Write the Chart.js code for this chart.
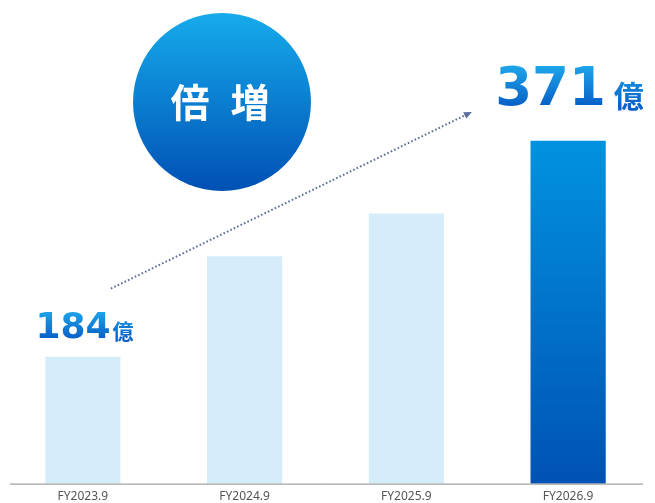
<!DOCTYPE html>
<html>
<head>
<meta charset="utf-8">
<script src="https://cdn.jsdelivr.net/npm/chart.js"></script>
<style>
  html, body { margin: 0; padding: 0; background: #fff; }
  #chart { display: block; }
</style>
</head>
<body>
<canvas id="chart" width="655" height="503"></canvas>
<script>
// data (middle two bars estimated)
const categories = ['FY2023.9', 'FY2024.9', 'FY2025.9', 'FY2026.9'];
const sales = [184, 271, 308, 371];
const unitLabel = '億';
const badgeText = ['倍', '増'];

// gradient for the last bar
function lastBarColor(ctx) {
  const chart = ctx.chart;
  const area = chart.chartArea;
  if (ctx.dataIndex !== sales.length - 1) return '#d5edfa';
  if (!area) return '#0a8ee0';
  const el = chart.getDatasetMeta(0).data[ctx.dataIndex];
  const top = el && el.y ? el.y : area.top;
  const g = chart.ctx.createLinearGradient(0, top, 0, area.bottom);
  g.addColorStop(0, '#02aaef');
  g.addColorStop(1, '#0052b4');
  return g;
}

function drawNumber(c, num, x, baseline, numSize, unitSize, gap) {
  c.save();
  c.font = 'bold ' + numSize + 'px "DejaVu Sans"';
  const w = c.measureText(num).width;
  const g = c.createLinearGradient(0, baseline - numSize * 0.75, 0, baseline);
  g.addColorStop(0, '#1ea6ea');
  g.addColorStop(1, '#0862c8');
  c.fillStyle = g;
  c.textBaseline = 'alphabetic';
  c.fillText(num, x, baseline);
  c.font = 'bold ' + unitSize + 'px "Noto Sans CJK JP"';
  c.fillText(unitLabel, x + w + gap, baseline + unitSize * 0.08);
  c.restore();
}

const decoPlugin = {
  id: 'deco',
  afterDatasetsDraw(chart) {
    const c = chart.ctx;
    const area = chart.chartArea;
    const bars = chart.getDatasetMeta(0).data;
    const first = bars[0];
    const last = bars[bars.length - 1];

    // baseline
    c.save();
    c.strokeStyle = '#8c8c8c';
    c.lineWidth = 1;
    c.beginPath();
    c.moveTo(area.left + 8, area.bottom + 0.5);
    c.lineTo(area.right - 6, area.bottom + 0.5);
    c.stroke();
    c.restore();

    // dotted arrow
    const sx = first.x + 28, sy = first.y - 68;
    const ex = last.x - 98, ey = last.y - 28;
    const ang = Math.atan2(ey - sy, ex - sx);
    c.save();
    c.strokeStyle = '#5a6c9a';
    c.fillStyle = '#5a6c9a';
    c.lineWidth = 2;
    c.setLineDash([1.6, 2.2]);
    c.beginPath();
    c.moveTo(sx, sy);
    c.lineTo(ex - 6 * Math.cos(ang), ey - 6 * Math.sin(ang));
    c.stroke();
    c.setLineDash([]);
    c.translate(ex, ey);
    c.rotate(ang);
    c.beginPath();
    c.moveTo(2, 0);
    c.lineTo(-6, -3.5);
    c.lineTo(-6, 3.5);
    c.closePath();
    c.fill();
    c.restore();

    // badge circle
    const cx = 222, cy = 102, r = 89;
    c.save();
    const cg = c.createLinearGradient(0, cy - r, 0, cy + r);
    cg.addColorStop(0, '#16abeb');
    cg.addColorStop(1, '#0050b4');
    c.fillStyle = cg;
    c.beginPath();
    c.arc(cx, cy, r, 0, Math.PI * 2);
    c.fill();
    c.fillStyle = '#ffffff';
    c.font = 'bold 39px "Noto Sans CJK JP"';
    c.textAlign = 'center';
    c.textBaseline = 'middle';
    c.fillText(badgeText[0], cx - 32, cy);
    c.fillText(badgeText[1], cx + 28, cy);
    c.restore();

    // value labels
    drawNumber(c, String(sales[0]), first.x - 47.5, first.y - 19, 36, 21, 2);
    drawNumber(c, String(sales[sales.length - 1]), last.x - 73, last.y - 36, 53, 30, 8);
  }
};

new Chart(document.getElementById('chart'), {
  type: 'bar',
  data: {
    labels: categories,
    datasets: [{
      data: sales,
      backgroundColor: lastBarColor,
      borderWidth: 0,
      barPercentage: 0.465,
      categoryPercentage: 1
    }]
  },
  options: {
    responsive: false,
    animation: false,
    layout: { padding: { left: 2, right: 6, top: 15, bottom: 1 } },
    plugins: {
      legend: { display: false },
      tooltip: { enabled: false }
    },
    scales: {
      x: {
        grid: { display: false },
        border: { display: false },
        ticks: {
          color: '#555555',
          font: { family: '"Noto Sans"', size: 12 },
          padding: -2
        }
      },
      y: {
        display: false,
        min: 74,
        max: 480
      }
    }
  },
  plugins: [decoPlugin]
});
</script>
</body>
</html>
